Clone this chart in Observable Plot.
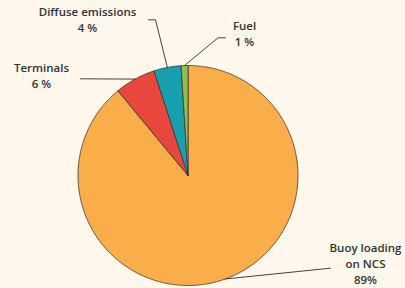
<!DOCTYPE html>
<html>
<head>
<meta charset="utf-8">
<script src="https://cdn.jsdelivr.net/npm/d3@7"></script>
<script src="https://cdn.jsdelivr.net/npm/@observablehq/plot@0.6"></script>
<style>
  html, body { margin: 0; padding: 0; background: #fdf7ec; }
  #chart svg { display: block; }
</style>
</head>
<body>
<div id="chart"></div>
<script>
// ---- data (clockwise from 12 o'clock) ----
const categories = ["Buoy loading\non NCS", "Terminals", "Diffuse emissions", "Fuel"];
const shares = [89, 6, 4, 1];
const valueLabels = ["89%", "6 %", "4 %", "1 %"];
const colors = ["#f9ae4a", "#e8473d", "#17a0ae", "#8cc152"];

// ---- layout (pixel space) ----
const W = 405, H = 288;
const center = {x: 187.5, y: 175};
const radius = 110;
// label text anchor (middle, last baseline) and leader start point per category
const labelLayout = [
  {tx: 365, ty: 283, lx: [330], ly: [267.7]},
  {tx: 41, ty: 87.5, lx: [80], ly: [78.3]},
  {tx: 87, ty: 31.5, lx: [148, 155], ly: [19.3, 19.3]},
  {tx: 244, ty: 45, lx: [225, 217.5], ly: [37.3, 37.3]}
];

const table = categories.map((name, i) => ({name, value: shares[i], label: valueLabels[i]}));
const arcs = d3.pie().sort(null).value(d => d.value)(table);

const pt = (a, r) => ({x: center.x + r * Math.sin(a), y: center.y - r * Math.cos(a)});

// slice polygons
const slicePoints = [];
arcs.forEach(a => {
  const n = Math.max(2, Math.ceil((a.endAngle - a.startAngle) / (Math.PI / 360)));
  slicePoints.push({name: a.data.name, ...center});
  for (let k = 0; k <= n; ++k) {
    const ang = a.startAngle + (a.endAngle - a.startAngle) * k / n;
    slicePoints.push({name: a.data.name, ...pt(ang, radius)});
  }
  slicePoints.push({name: a.data.name, ...center});
});

// leader lines
const leaders = [];
arcs.forEach((a, i) => {
  const L = labelLayout[i];
  L.lx.forEach((x, j) => leaders.push({name: a.data.name, x, y: L.ly[j]}));
  leaders.push({name: a.data.name, ...pt((a.startAngle + a.endAngle) / 2, radius)});
});

const labels = arcs.map((a, i) => ({
  text: a.data.name + "\n" + a.data.label,
  x: labelLayout[i].tx,
  y: labelLayout[i].ty
}));

const chart = Plot.plot({
  width: W,
  height: H,
  margin: 0,
  style: {background: "#fdf7ec", fontFamily: "'Open Sans', sans-serif"},
  x: {domain: [0, W], range: [0, W], axis: null},
  y: {domain: [0, H], range: [0, H], axis: null},
  color: {domain: categories, range: colors},
  marks: [
    Plot.line(slicePoints, {x: "x", y: "y", z: "name", fill: "name", stroke: "#3a3330", strokeWidth: 0.8, curve: "linear"}),
    Plot.line(leaders, {x: "x", y: "y", z: "name", stroke: "#2f2f2f", strokeWidth: 0.9, curve: "linear"}),
    Plot.text(labels, {x: "x", y: "y", text: "text", lineAnchor: "bottom", lineHeight: 1.38, textAnchor: "middle",
      fontSize: 11.5, fontWeight: 650, fill: "#333333"})
  ]
});
document.getElementById("chart").appendChild(chart);
</script>
</body>
</html>
